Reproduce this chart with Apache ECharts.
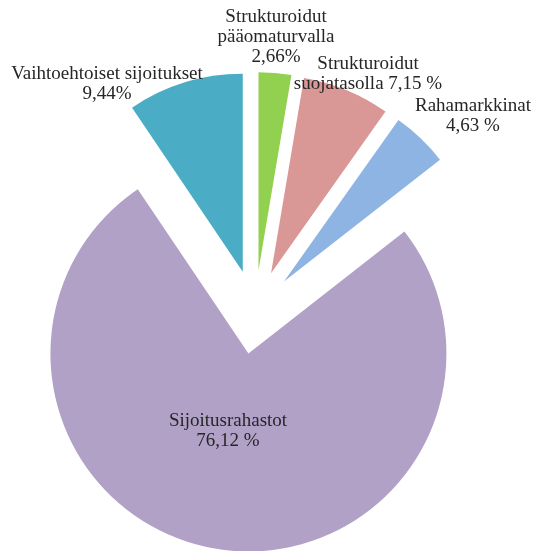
<!DOCTYPE html>
<html>
<head>
<meta charset="utf-8">
<script src="https://cdn.jsdelivr.net/npm/echarts@6/dist/echarts.min.js"></script>
<style>
  html, body { margin: 0; padding: 0; background: #fff; }
  #chart { width: 533px; height: 551px; }
</style>
</head>
<body>
<div id="chart"></div>
<script>
  // slices clockwise from 12 o'clock
  var names = ['Strukturoidut pääomaturvalla', 'Strukturoidut suojatasolla', 'Rahamarkkinat', 'Sijoitusrahastot', 'Vaihtoehtoiset sijoitukset'];
  var values = [2.66, 7.15, 4.63, 76.12, 9.44];
  var labels = [
    'Strukturoidut\npääomaturvalla\n2,66%',
    'Strukturoidut\nsuojatasolla 7,15 %',
    'Rahamarkkinat\n4,63 %',
    'Sijoitusrahastot\n76,12 %',
    'Vaihtoehtoiset sijoitukset\n9,44%'
  ];
  var colors = ['#92D050', '#D99795', '#8EB4E3', '#B1A1C7', '#4BACC6'];

  // label anchor points (centre of each text block)
  var labelPos = [[276, 37], [368, 74], [473, 116], [228, 431], [107, 84]];

  var chart = echarts.init(document.getElementById('chart'));
  var option = {
    animation: false,
    graphic: labels.map(function (t, i) {
      return {
        type: 'text',
        x: labelPos[i][0],
        y: labelPos[i][1],
        z: 100,
        silent: true,
        style: {
          text: t,
          align: 'center',
          verticalAlign: 'middle',
          font: '19px "Liberation Serif"',
          lineHeight: 20,
          fill: '#262626'
        }
      };
    }),
    series: [{
      type: 'pie',
      center: [255, 312],
      radius: [0, 198],
      startAngle: 90,
      clockwise: true,
      selectedMode: 'multiple',
      selectedOffset: 42,
      emphasis: { disabled: true },
      label: { show: false },
      labelLine: { show: false },
      data: names.map(function (n, i) {
        return { name: n, value: values[i], selected: true, itemStyle: { color: colors[i] } };
      })
    }]
  };
  chart.setOption(option);
</script>
</body>
</html>
